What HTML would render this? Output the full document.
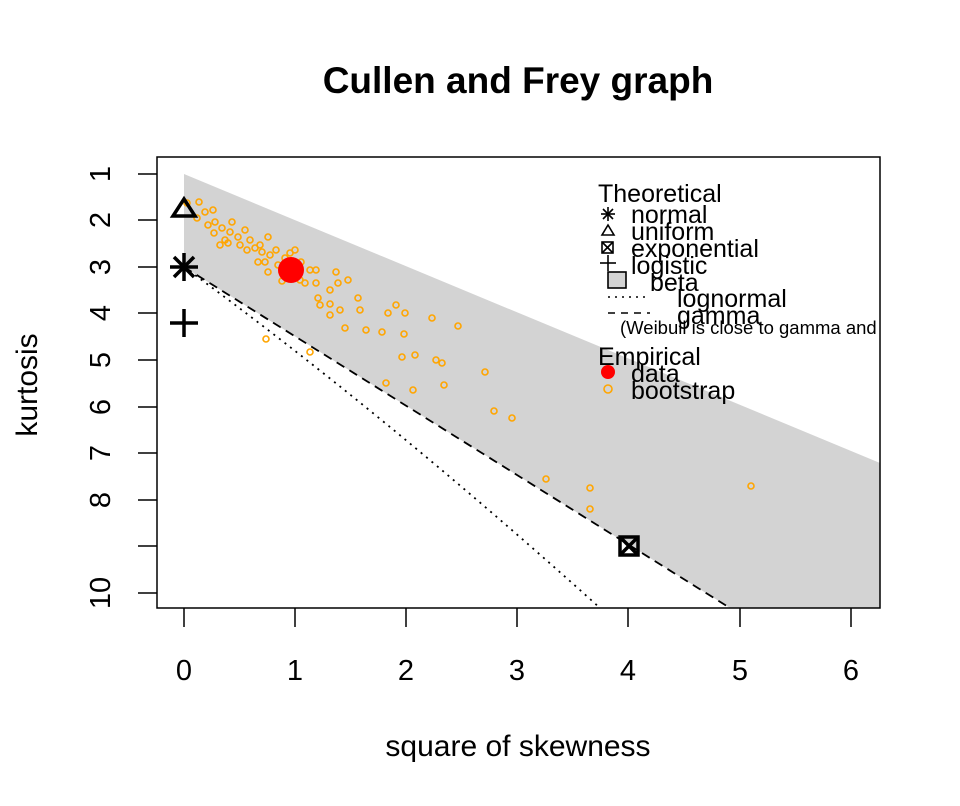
<!DOCTYPE html>
<html><head><meta charset="utf-8"><style>body{margin:0;background:#fff}svg{display:block}</style></head>
<body>
<svg width="960" height="806" viewBox="0 0 960 806" font-family="Liberation Sans, Arial, sans-serif">
<defs><clipPath id="c"><rect x="157" y="157" width="723" height="451"/></clipPath></defs>
<rect width="960" height="806" fill="#fff"/>
<text x="518" y="93" font-size="37" font-weight="bold" text-anchor="middle">Cullen and Frey graph</text>
<polygon points="184,174 880,463 880,608 730,608 184,267" fill="#d3d3d3"/>
<line x1="184" y1="267" x2="730" y2="608" stroke="#000" stroke-width="1.8" stroke-dasharray="9,6"/>
<path d="M184,267 Q380,410 600,608" fill="none" stroke="#000" stroke-width="1.8" stroke-dasharray="2,5"/>
<g fill="none" stroke="#ffa500" stroke-width="1.6">
<circle cx="187" cy="203" r="3"/><circle cx="199" cy="202" r="3"/><circle cx="205" cy="212" r="3"/><circle cx="197" cy="218" r="3"/><circle cx="213" cy="210" r="3"/><circle cx="208" cy="225" r="3"/><circle cx="215" cy="222" r="3"/><circle cx="222" cy="228" r="3"/><circle cx="230" cy="232" r="3"/><circle cx="225" cy="240" r="3"/><circle cx="238" cy="237" r="3"/><circle cx="220" cy="245" r="3"/><circle cx="240" cy="245" r="3"/><circle cx="247" cy="250" r="3"/><circle cx="255" cy="248" r="3"/><circle cx="258" cy="262" r="3"/><circle cx="265" cy="262" r="3"/><circle cx="270" cy="255" r="3"/><circle cx="276" cy="250" r="3"/><circle cx="268" cy="237" r="3"/><circle cx="278" cy="265" r="3"/><circle cx="268" cy="272" r="3"/><circle cx="282" cy="272" r="3"/><circle cx="285" cy="258" r="3"/><circle cx="290" cy="253" r="3"/><circle cx="295" cy="250" r="3"/><circle cx="301" cy="262" r="3"/><circle cx="310" cy="270" r="3"/><circle cx="316" cy="270" r="3"/><circle cx="300" cy="280" r="3"/><circle cx="316" cy="283" r="3"/><circle cx="318" cy="298" r="3"/><circle cx="320" cy="305" r="3"/><circle cx="330" cy="304" r="3"/><circle cx="330" cy="315" r="3"/><circle cx="340" cy="310" r="3"/><circle cx="336" cy="272" r="3"/><circle cx="338" cy="283" r="3"/><circle cx="348" cy="280" r="3"/><circle cx="358" cy="298" r="3"/><circle cx="360" cy="310" r="3"/><circle cx="345" cy="328" r="3"/><circle cx="366" cy="330" r="3"/><circle cx="382" cy="332" r="3"/><circle cx="388" cy="313" r="3"/><circle cx="396" cy="305" r="3"/><circle cx="405" cy="313" r="3"/><circle cx="404" cy="334" r="3"/><circle cx="432" cy="318" r="3"/><circle cx="458" cy="326" r="3"/><circle cx="402" cy="357" r="3"/><circle cx="415" cy="355" r="3"/><circle cx="436" cy="360" r="3"/><circle cx="442" cy="363" r="3"/><circle cx="485" cy="372" r="3"/><circle cx="386" cy="383" r="3"/><circle cx="444" cy="385" r="3"/><circle cx="413" cy="390" r="3"/><circle cx="494" cy="411" r="3"/><circle cx="512" cy="418" r="3"/><circle cx="546" cy="479" r="3"/><circle cx="590" cy="488" r="3"/><circle cx="590" cy="509" r="3"/><circle cx="751" cy="486" r="3"/><circle cx="266" cy="339" r="3"/><circle cx="310" cy="352" r="3"/><circle cx="282" cy="281" r="3"/><circle cx="305" cy="283" r="3"/><circle cx="330" cy="290" r="3"/><circle cx="232" cy="222" r="3"/><circle cx="245" cy="230" r="3"/><circle cx="250" cy="240" r="3"/><circle cx="260" cy="245" r="3"/><circle cx="262" cy="252" r="3"/><circle cx="214" cy="233" r="3"/><circle cx="228" cy="243" r="3"/>
</g>
<circle cx="291" cy="270" r="13" fill="#f00"/>
<polygon points="184,199 173,216 195,216" fill="none" stroke="#000" stroke-width="3.5"/>
<g stroke="#000" stroke-width="3.5"><line x1="170" y1="267" x2="198" y2="267"/><line x1="184" y1="253" x2="184" y2="281"/><line x1="174" y1="257" x2="194" y2="277"/><line x1="174" y1="277" x2="194" y2="257"/>
<line x1="170" y1="323" x2="198" y2="323"/><line x1="184" y1="309" x2="184" y2="337"/></g>
<g stroke="#000" stroke-width="3.5" fill="none"><rect x="620" y="537" width="18" height="18"/><line x1="620" y1="537" x2="638" y2="555"/><line x1="638" y1="537" x2="620" y2="555"/></g>
<rect x="157" y="157" width="723" height="451" fill="none" stroke="#000" stroke-width="1.5"/>
<g stroke="#000" stroke-width="1.5">
<line x1="184" y1="608" x2="184" y2="627"/><line x1="295" y1="608" x2="295" y2="627"/><line x1="406" y1="608" x2="406" y2="627"/><line x1="517" y1="608" x2="517" y2="627"/><line x1="628" y1="608" x2="628" y2="627"/><line x1="740" y1="608" x2="740" y2="627"/><line x1="851" y1="608" x2="851" y2="627"/>
<line x1="138" y1="174" x2="157" y2="174"/><line x1="138" y1="220" x2="157" y2="220"/><line x1="138" y1="267" x2="157" y2="267"/><line x1="138" y1="313" x2="157" y2="313"/><line x1="138" y1="360" x2="157" y2="360"/><line x1="138" y1="407" x2="157" y2="407"/><line x1="138" y1="453" x2="157" y2="453"/><line x1="138" y1="500" x2="157" y2="500"/><line x1="138" y1="546" x2="157" y2="546"/><line x1="138" y1="593" x2="157" y2="593"/>
</g>
<g font-size="29" text-anchor="middle">
<text x="184" y="680">0</text><text x="295" y="680">1</text><text x="406" y="680">2</text><text x="517" y="680">3</text><text x="628" y="680">4</text><text x="740" y="680">5</text><text x="851" y="680">6</text>
<text x="518" y="756" font-size="30">square of skewness</text>
<text transform="translate(37,385) rotate(-90)" font-size="30">kurtosis</text>
<g transform="translate(110,0)">
<text transform="translate(0,174) rotate(-90)">1</text><text transform="translate(0,220) rotate(-90)">2</text><text transform="translate(0,267) rotate(-90)">3</text><text transform="translate(0,313) rotate(-90)">4</text><text transform="translate(0,360) rotate(-90)">5</text><text transform="translate(0,407) rotate(-90)">6</text><text transform="translate(0,453) rotate(-90)">7</text><text transform="translate(0,500) rotate(-90)">8</text><text transform="translate(0,593) rotate(-90)">10</text>
</g></g>
<g font-size="25">
<text x="598" y="202">Theoretical</text>
<text x="631" y="223">normal</text>
<text x="631" y="240">uniform</text>
<text x="631" y="257">exponential</text>
<text x="631" y="274">logistic</text>
<text x="650" y="291">beta</text>
<text x="677" y="307">lognormal</text>
<text x="677" y="324">gamma</text>
<text x="598" y="365">Empirical</text>
<text x="631" y="382">data</text>
<text x="631" y="399">bootstrap</text>
</g>
<text x="620" y="334" font-size="18.5" clip-path="url(#c)">(Weibull is close to gamma and</text>
<g stroke="#000" stroke-width="1.6" fill="none">
<line x1="601" y1="214" x2="615" y2="214"/><line x1="608" y1="207" x2="608" y2="221"/><line x1="603" y1="209" x2="613" y2="219"/><line x1="603" y1="219" x2="613" y2="209"/>
<polygon points="608,225 602,235 614,235"/>
<rect x="602" y="242" width="11" height="11"/><line x1="602" y1="242" x2="613" y2="253"/><line x1="613" y1="242" x2="602" y2="253"/>
<line x1="600" y1="263" x2="616" y2="263"/><line x1="608" y1="255" x2="608" y2="271"/>
<rect x="608" y="272" width="18" height="16" fill="#d3d3d3"/>
<line x1="608" y1="297" x2="650" y2="297" stroke-dasharray="2,5"/>
<line x1="608" y1="313" x2="650" y2="313" stroke-dasharray="7,6"/>
</g>
<circle cx="608" cy="372" r="7" fill="#f00"/>
<circle cx="608" cy="389" r="4" fill="none" stroke="#ffa500" stroke-width="1.6"/>
</svg>
</body></html>
